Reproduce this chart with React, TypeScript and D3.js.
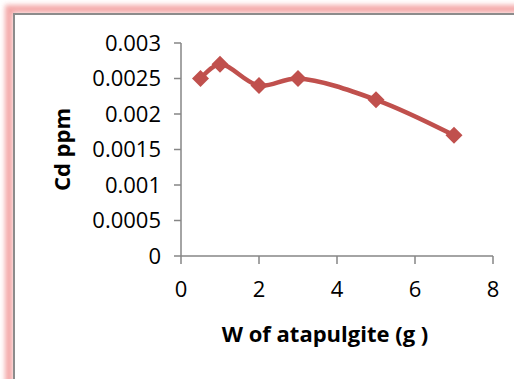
import * as d3 from 'd3';

// chart data
const weights = [0.5, 1, 2, 3, 5, 7];
const cdPpm = [0.0025, 0.0027, 0.0024, 0.0025, 0.0022, 0.0017];
const xTicks = [0, 2, 4, 6, 8];
const yTicks = [0, 0.0005, 0.001, 0.0015, 0.002, 0.0025, 0.003];

const WIDTH = 514;
const HEIGHT = 379;
const PLOT = { left: 181, right: 493, top: 43, bottom: 256 };
const FONT = '"Open Sans", Lato, sans-serif';
const RED = '#C0504D';
const AXIS = '#868686';

const App = () => {
  const xScale = d3.scaleLinear().domain([0, 8]).range([PLOT.left, PLOT.right]);
  const yScale = d3.scaleLinear().domain([0, 0.003]).range([PLOT.bottom, PLOT.top]);

  const points = weights.map((w, i) => [w, cdPpm[i]] as [number, number]);

  const lineGen = d3
    .line<[number, number]>()
    .x((d) => xScale(d[0]))
    .y((d) => yScale(d[1]))
    .curve(d3.curveCatmullRom.alpha(0.5));

  const diamond = (cx: number, cy: number, r: number) =>
    `M${cx},${cy - r}L${cx + r},${cy}L${cx},${cy + r}L${cx - r},${cy}Z`;

  return (
    <>
      <style>{`body{margin:0}`}</style>
      <svg width={WIDTH} height={HEIGHT} style={{ display: 'block', background: '#fff' }}>
        <defs>
          <filter id="glow" x="-10%" y="-10%" width="120%" height="120%">
            <feGaussianBlur stdDeviation="2.5" />
          </filter>
        </defs>

        {/* pink shadow around the chart frame */}
        <rect
          x={9}
          y={9}
          width={WIDTH + 40}
          height={HEIGHT + 40}
          fill="none"
          stroke="#F08C8C"
          strokeWidth={8}
          opacity={0.75}
          filter="url(#glow)"
        />
        <rect x={14} y={14} width={WIDTH + 40} height={HEIGHT + 40} fill="#fff" />
        <rect
          x={14}
          y={14}
          width={WIDTH + 40}
          height={HEIGHT + 40}
          fill="none"
          stroke="#8C8C8C"
          strokeWidth={2}
        />

        {/* y axis */}
        <line x1={PLOT.left} x2={PLOT.left} y1={PLOT.top} y2={PLOT.bottom} stroke={AXIS} strokeWidth={1.5} />
        {yTicks.map((t) => (
          <g key={t}>
            <line x1={PLOT.left - 7} x2={PLOT.left} y1={yScale(t)} y2={yScale(t)} stroke={AXIS} strokeWidth={1.5} />
            <text
              x={PLOT.left - 20}
              y={yScale(t)}
              dy="0.36em"
              textAnchor="end"
              fontFamily={FONT}
              fontSize={22}
              fill="#000"
            >
              {String(t)}
            </text>
          </g>
        ))}

        {/* x axis */}
        <line x1={PLOT.left} x2={PLOT.right} y1={PLOT.bottom} y2={PLOT.bottom} stroke={AXIS} strokeWidth={1.5} />
        {xTicks.map((t) => (
          <g key={t}>
            <line x1={xScale(t)} x2={xScale(t)} y1={PLOT.bottom} y2={PLOT.bottom + 8} stroke={AXIS} strokeWidth={1.5} />
            <text
              x={xScale(t)}
              y={297}
              textAnchor="middle"
              fontFamily={FONT}
              fontSize={22}
              fill="#000"
            >
              {t}
            </text>
          </g>
        ))}

        {/* axis titles */}
        <text
          x={325}
          y={342}
          textAnchor="middle"
          fontFamily={FONT}
          fontWeight="bold"
          fontSize={22}
          fill="#000"
        >
          W of atapulgite (g )
        </text>
        <text
          transform={`translate(70, ${(PLOT.top + PLOT.bottom) / 2}) rotate(-90)`}
          textAnchor="middle"
          fontFamily={FONT}
          fontWeight="bold"
          fontSize={22}
          fill="#000"
        >
          Cd ppm
        </text>

        {/* series */}
        <path d={lineGen(points) ?? ''} fill="none" stroke={RED} strokeWidth={4.5} strokeLinejoin="round" />
        {points.map((p, i) => (
          <path key={i} d={diamond(xScale(p[0]), yScale(p[1]), 8.5)} fill={RED} />
        ))}
      </svg>
    </>
  );
};

export default App;
